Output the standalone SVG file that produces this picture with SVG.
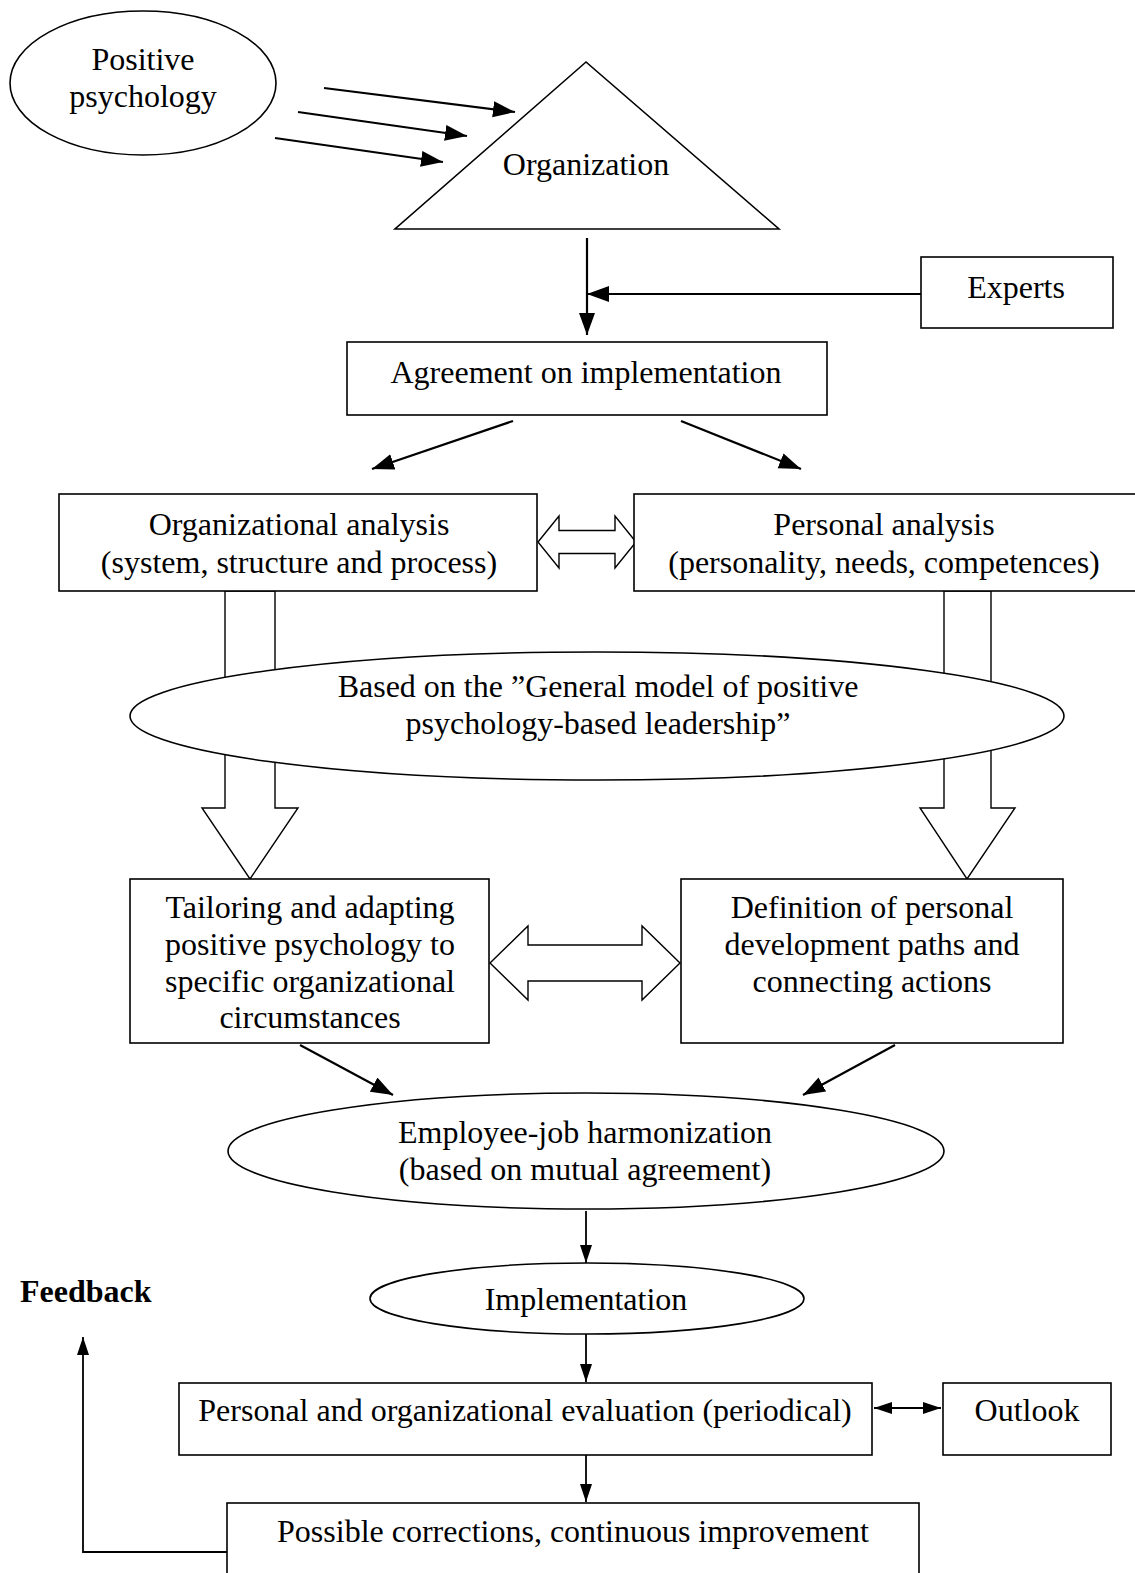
<svg xmlns="http://www.w3.org/2000/svg" width="1135" height="1573" viewBox="0 0 1135 1573">
<style>
.n{fill:#fff;stroke:#000;stroke-width:1.6}
.t{font-family:"Liberation Serif","Times New Roman",serif;font-size:32px;fill:#000;text-anchor:middle}
.b{font-weight:bold;text-anchor:start}
.c{fill:none;stroke:#000;stroke-width:2.2}
.c2{fill:none;stroke:#000;stroke-width:1.8}
.h{fill:#fff;stroke:#000;stroke-width:1.4}
</style>
<defs>
<marker id="ah" markerUnits="userSpaceOnUse" markerWidth="24" markerHeight="20" refX="22" refY="8" orient="auto">
<path d="M0,0 L22,8 L0,16 Z" fill="#000"/>
</marker>
<marker id="as" markerUnits="userSpaceOnUse" markerWidth="20" markerHeight="16" refX="18" refY="6" orient="auto">
<path d="M0,0 L18,6 L0,12 Z" fill="#000"/>
</marker>
<marker id="asr" markerUnits="userSpaceOnUse" markerWidth="20" markerHeight="16" refX="0" refY="6" orient="auto">
<path d="M18,0 L0,6 L18,12 Z" fill="#000"/>
</marker>
</defs>

<g id="hollow-arrows">
<polygon class="h" points="225,591 275,591 275,808 298,808 250,879 202,808 225,808"/>
<polygon class="h" points="944,591 991,591 991,808 1015,808 967,879 920,808 944,808"/>
<polygon class="h" points="538,542 559,516 559,530.5 615,530.5 615,516 636,542 615,568 615,553.5 559,553.5 559,568"/>
<polygon class="h" points="490,963 528,926 528,945 642,945 642,926 680,963 642,1000 642,981 528,981 528,1000"/>
</g>

<g id="positive-psychology">
<ellipse class="n" cx="143" cy="83" rx="133" ry="72"/>
<text class="t" x="143" y="70">Positive</text>
<text class="t" x="143" y="107">psychology</text>
</g>

<g id="organization">
<polygon class="n" points="586,62 395,229 779,229"/>
<text class="t" x="586" y="175">Organization</text>
</g>

<g id="experts">
<rect class="n" x="921" y="257" width="192" height="71"/>
<text class="t" x="1016" y="298">Experts</text>
</g>

<g id="agreement">
<rect class="n" x="347" y="342" width="480" height="73"/>
<text class="t" x="586" y="383">Agreement on implementation</text>
</g>

<g id="org-analysis">
<rect class="n" x="59" y="494" width="478" height="97"/>
<text class="t" x="299" y="535">Organizational analysis</text>
<text class="t" x="299" y="573">(system, structure and process)</text>
</g>

<g id="personal-analysis">
<rect class="n" x="634" y="494" width="510" height="97"/>
<text class="t" x="884" y="535">Personal analysis</text>
<text class="t" x="884" y="573">(personality, needs, competences)</text>
</g>

<g id="general-model">
<ellipse class="n" cx="597" cy="716" rx="467" ry="64"/>
<text class="t" x="598" y="697">Based on the ”General model of positive</text>
<text class="t" x="598" y="734">psychology-based leadership”</text>
</g>

<g id="tailoring">
<rect class="n" x="130" y="879" width="359" height="164"/>
<text class="t" x="310" y="918">Tailoring and adapting</text>
<text class="t" x="310" y="955">positive psychology to</text>
<text class="t" x="310" y="992">specific organizational</text>
<text class="t" x="310" y="1028">circumstances</text>
</g>

<g id="definition">
<rect class="n" x="681" y="879" width="382" height="164"/>
<text class="t" x="872" y="918">Definition of personal</text>
<text class="t" x="872" y="955">development paths and</text>
<text class="t" x="872" y="992">connecting actions</text>
</g>

<g id="harmonization">
<ellipse class="n" cx="586" cy="1151" rx="358" ry="58"/>
<text class="t" x="585" y="1143">Employee-job harmonization</text>
<text class="t" x="585" y="1180">(based on mutual agreement)</text>
</g>

<g id="implementation">
<ellipse class="n" cx="587" cy="1298.5" rx="217" ry="35.5"/>
<text class="t" x="586" y="1310">Implementation</text>
</g>

<g id="evaluation">
<rect class="n" x="179" y="1383" width="693" height="72"/>
<text class="t" x="525" y="1421">Personal and organizational evaluation (periodical)</text>
</g>

<g id="outlook">
<rect class="n" x="943" y="1383" width="168" height="72"/>
<text class="t" x="1027" y="1421">Outlook</text>
</g>

<g id="corrections">
<rect class="n" x="227" y="1503" width="692" height="90"/>
<text class="t" x="573" y="1542">Possible corrections, continuous improvement</text>
</g>

<g id="feedback-label">
<text class="t b" x="20" y="1302">Feedback</text>
</g>

<g id="connectors">
<line class="c" x1="324" y1="88" x2="515" y2="112" marker-end="url(#ah)"/>
<line class="c" x1="298" y1="112" x2="467" y2="136" marker-end="url(#ah)"/>
<line class="c" x1="275" y1="138" x2="443" y2="162" marker-end="url(#ah)"/>
<line class="c" x1="587" y1="238" x2="587" y2="335" marker-end="url(#ah)"/>
<line class="c" x1="921" y1="294" x2="587" y2="294" marker-end="url(#ah)"/>
<line class="c" x1="513" y1="421" x2="372" y2="469" marker-end="url(#ah)"/>
<line class="c" x1="681" y1="421" x2="801" y2="469" marker-end="url(#ah)"/>
<line class="c" x1="300" y1="1045" x2="393" y2="1095" marker-end="url(#ah)"/>
<line class="c" x1="895" y1="1045" x2="803" y2="1095" marker-end="url(#ah)"/>
<line class="c2" x1="586" y1="1211" x2="586" y2="1263" marker-end="url(#as)"/>
<line class="c2" x1="586" y1="1334" x2="586" y2="1382" marker-end="url(#as)"/>
<line class="c" x1="874" y1="1408" x2="941" y2="1408" marker-start="url(#asr)" marker-end="url(#as)"/>
<line class="c2" x1="586" y1="1455" x2="586" y2="1502" marker-end="url(#as)"/>
<polyline class="c2" points="227,1552 83,1552 83,1337" marker-end="url(#as)"/>
</g>
</svg>
